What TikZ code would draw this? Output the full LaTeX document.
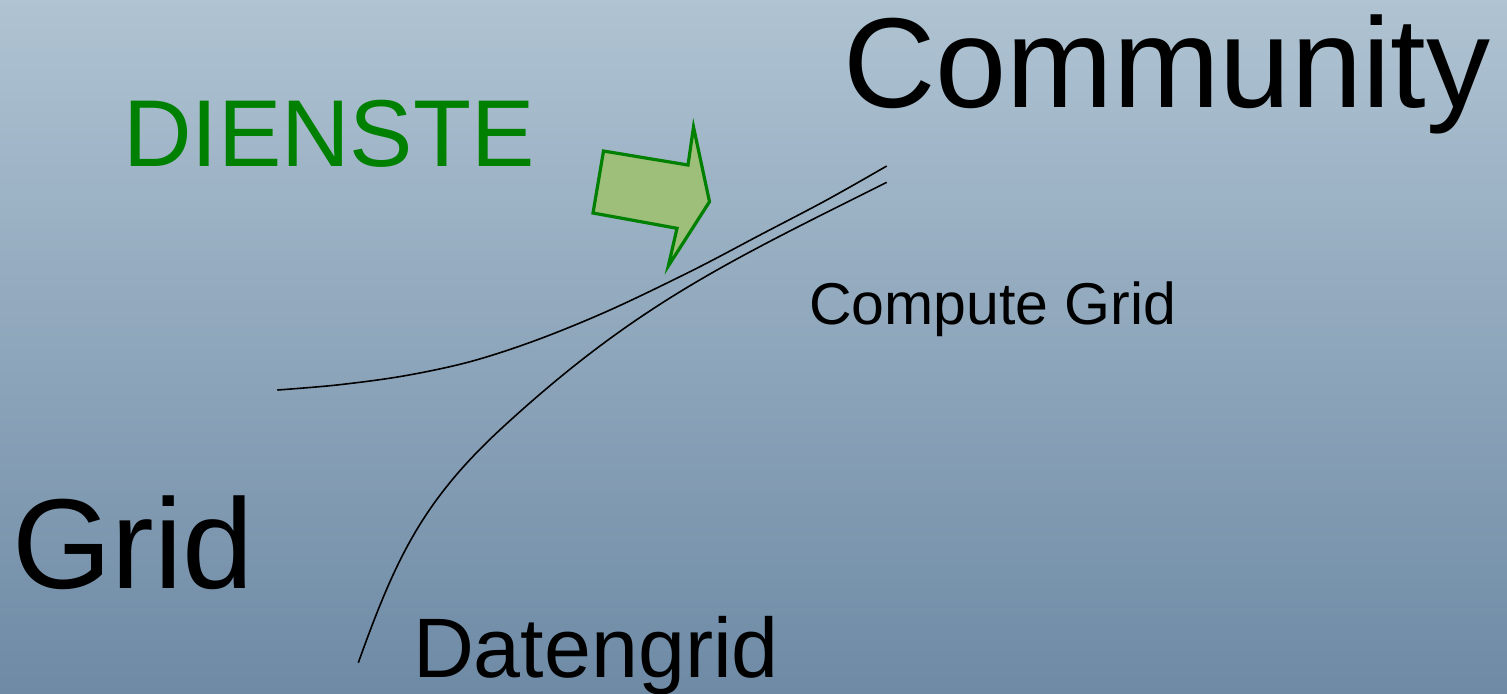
\documentclass[tikz,border=0pt]{standalone}
\usepackage{fontspec}
\setmainfont{Liberation Sans}
\definecolor{bgtop}{RGB}{175,195,210}
\definecolor{bgbot}{RGB}{110,138,165}
\definecolor{dgreen}{RGB}{0,128,0}
\definecolor{afill}{RGB}{157,191,122}
\tikzset{
  lbl/.style={inner sep=0pt, outer sep=0pt, anchor=base west, text=black},
  curve/.style={draw=black, line width=0.8pt},
  bigarrow/.style={draw=dgreen, fill=afill, line width=1.6pt, line join=miter}
}
\begin{document}
\begin{tikzpicture}[x=0.5pt, y=-0.5pt]
\useasboundingbox (0,0) rectangle (1507,693);
\shade[top color=bgtop, bottom color=bgbot] (0,0) rectangle (1507,693);

\node[lbl] (community) at (843,107) {\fontsize{64pt}{70pt}\selectfont Community};
\node[lbl] (grid) at (12,588) {\fontsize{64pt}{70pt}\selectfont Grid};
\node[lbl] (datengrid) at (413,677) {\fontsize{42.2pt}{48pt}\selectfont Datengrid};
\node[lbl] (compute) at (809,324) {\fontsize{29.5pt}{34pt}\selectfont Compute Grid};
\node[lbl, text=dgreen] (dienste) at (123,166) {\fontsize{47.5pt}{54pt}\selectfont DIENSTE};

\coordinate (u1) at (277.3,390);
\coordinate (u2) at (886.7,166);
\coordinate (l1) at (358.3,662.7);
\coordinate (lm) at (503.3,426.7);
\coordinate (l2) at (886.7,182.3);

\draw[curve] plot[smooth, tension=0.55] coordinates {(u1) (336.7,385) (403.3,376) (470,361.7) (536.7,340) (610,310) (693.3,270) (760,235) (826.7,200) (u2)};
\draw[curve] (l1) .. controls (395.4,559.2) and (422.2,501.1) .. (lm)
                  .. controls (636,305) and (725.8,262.8) .. (l2);

\draw[bigarrow] (603.5,151) -- (688,165) -- (693.5,127) -- (709.5,201.7) -- (668.3,266) -- (677,228.3) -- (593,213) -- cycle;
\end{tikzpicture}
\end{document}
